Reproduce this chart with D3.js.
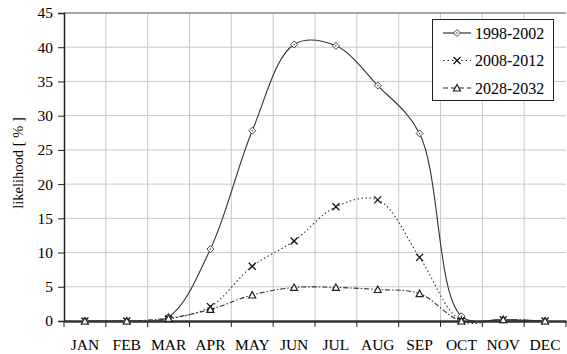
<!DOCTYPE html>
<html>
<head>
<meta charset="utf-8">
<script src="https://cdn.jsdelivr.net/npm/d3@7"></script>
<style>
  body { margin: 0; background: #fff; }
  text { font-family: "Liberation Serif", "DejaVu Serif", serif; fill: #000; }
</style>
</head>
<body>
<div id="chart"></div>
<script>
var months = ["JAN", "FEB", "MAR", "APR", "MAY", "JUN", "JUL", "AUG", "SEP", "OCT", "NOV", "DEC"];
var yTicks = [0, 5, 10, 15, 20, 25, 30, 35, 40, 45];
var s1998 = [0, 0, 0.6, 10.5, 27.8, 40.4, 40.2, 34.4, 27.4, 0.7, 0.2, 0];
var s2008 = [0, 0, 0.3, 2.1, 8.0, 11.7, 16.7, 17.7, 9.3, 0, 0.2, 0];
var s2028 = [0, 0, 0.4, 1.7, 3.8, 4.9, 4.9, 4.6, 4.0, 0, 0.2, 0];
var seriesNames = ["1998-2002", "2008-2012", "2028-2032"];

var width = 567, height = 354;
var margin = {top: 13, left: 64, right: 1, bottom: 33};

var svg = d3.select("#chart").append("svg")
    .attr("width", width)
    .attr("height", height);

var x = d3.scaleBand().domain(months)
    .range([margin.left, width - margin.right]);
var y = d3.scaleLinear().domain([0, 45])
    .range([height - margin.bottom, margin.top]);

// grid
svg.append("g").selectAll("line.h")
    .data(yTicks.slice(1, -1))
    .enter().append("line")
    .attr("x1", margin.left).attr("x2", width - margin.right)
    .attr("y1", function(d) { return y(d); }).attr("y2", function(d) { return y(d); })
    .attr("stroke", "#c8c8c8").attr("stroke-width", 1);

svg.append("g").selectAll("line.v")
    .data(months.slice(1))
    .enter().append("line")
    .attr("x1", function(d) { return x(d); }).attr("x2", function(d) { return x(d); })
    .attr("y1", margin.top).attr("y2", y(0))
    .attr("stroke", "#c8c8c8").attr("stroke-width", 1);

// top border
svg.append("line")
    .attr("x1", margin.left).attr("x2", width - margin.right)
    .attr("y1", margin.top).attr("y2", margin.top)
    .attr("stroke", "#888").attr("stroke-width", 1.5);

// y axis
var yAxis = svg.append("g")
    .attr("transform", "translate(" + margin.left + ",0)")
    .call(d3.axisLeft(y).tickValues(yTicks).tickSize(6).tickPadding(5));
yAxis.select(".domain").attr("stroke", "#222").attr("stroke-width", 1.5);
yAxis.selectAll(".tick line").attr("stroke", "#222");
yAxis.selectAll("text").style("font-size", "15.5px").attr("font-family", null);

// x axis
var xAxis = svg.append("g")
    .attr("transform", "translate(0," + y(0) + ")")
    .call(d3.axisBottom(x).tickSize(0).tickPadding(18));
xAxis.select(".domain").attr("stroke", "#333").attr("stroke-width", 2.5);
xAxis.selectAll("text").style("font-size", "15.5px").attr("font-family", null);
svg.append("g").selectAll("line")
    .data(months.concat(["end"]))
    .enter().append("line")
    .attr("x1", function(d, i) { return margin.left + i * x.step(); })
    .attr("x2", function(d, i) { return margin.left + i * x.step(); })
    .attr("y1", y(0)).attr("y2", y(0) + 6)
    .attr("stroke", "#222");

svg.append("text")
    .attr("transform", "translate(23," + ((margin.top + y(0)) / 2 - 4) + ") rotate(-90)")
    .attr("text-anchor", "middle")
    .style("font-size", "14.5px")
    .text("likelihood [ % ]");

var line = d3.line()
    .x(function(d, i) { return x(months[i]) + x.bandwidth() / 2; })
    .y(function(d) { return y(d); })
    .curve(d3.curveCatmullRom.alpha(0.5));

var styles = [
    {dash: null, color: "#333", marker: "diamond"},
    {dash: "1.5,2.5", color: "#333", marker: "x"},
    {dash: "5,2,1.5,2", color: "#333", marker: "tri"}
];
var allSeries = [s1998, s2008, s2028];

function drawMarker(g, type, cx, cy) {
    if (type == "diamond") {
        g.append("path")
            .attr("d", "M" + cx + "," + (cy - 3.5) + "L" + (cx + 3.5) + "," + cy + "L" + cx + "," + (cy + 3.5) + "L" + (cx - 3.5) + "," + cy + "Z")
            .attr("fill", "#fff").attr("stroke", "#444").attr("stroke-width", 1);
        g.append("circle").attr("cx", cx).attr("cy", cy).attr("r", 0.8).attr("fill", "#444");
    } else if (type == "x") {
        g.append("path")
            .attr("d", "M" + (cx - 3.5) + "," + (cy - 3.5) + "L" + (cx + 3.5) + "," + (cy + 3.5) + "M" + (cx + 3.5) + "," + (cy - 3.5) + "L" + (cx - 3.5) + "," + (cy + 3.5))
            .attr("stroke", "#111").attr("stroke-width", 1.3);
    } else {
        g.append("path")
            .attr("d", "M" + cx + "," + (cy - 3.5) + "L" + (cx + 3.5) + "," + (cy + 3) + "L" + (cx - 3.5) + "," + (cy + 3) + "Z")
            .attr("fill", "#fff").attr("stroke", "#222").attr("stroke-width", 1.2);
    }
}

allSeries.forEach(function(data, k) {
    svg.append("path")
        .datum(data)
        .attr("d", line)
        .attr("fill", "none")
        .attr("stroke", styles[k].color)
        .attr("stroke-width", 1.1)
        .attr("stroke-dasharray", styles[k].dash);
});
allSeries.forEach(function(data, k) {
    var g = svg.append("g");
    data.forEach(function(v, i) {
        drawMarker(g, styles[k].marker, x(months[i]) + x.bandwidth() / 2, y(v));
    });
});

// legend
var legend = svg.append("g");
legend.append("rect")
    .attr("x", 432.5).attr("y", 19.5).attr("width", 121).attr("height", 81)
    .attr("fill", "#fff").attr("stroke", "#222").attr("stroke-width", 1);
seriesNames.forEach(function(name, k) {
    var ly = 33 + k * 27.5;
    legend.append("line")
        .attr("x1", 443).attr("x2", 471).attr("y1", ly).attr("y2", ly)
        .attr("stroke", "#222").attr("stroke-width", 1.1)
        .attr("stroke-dasharray", k == 0 ? null : (k == 1 ? "1.5,3" : "5,3"));
    drawMarker(legend, styles[k].marker, 457, ly);
    legend.append("text")
        .attr("x", 475).attr("y", ly + 5.5)
        .style("font-size", "16px")
        .text(name);
});
</script>
</body>
</html>
